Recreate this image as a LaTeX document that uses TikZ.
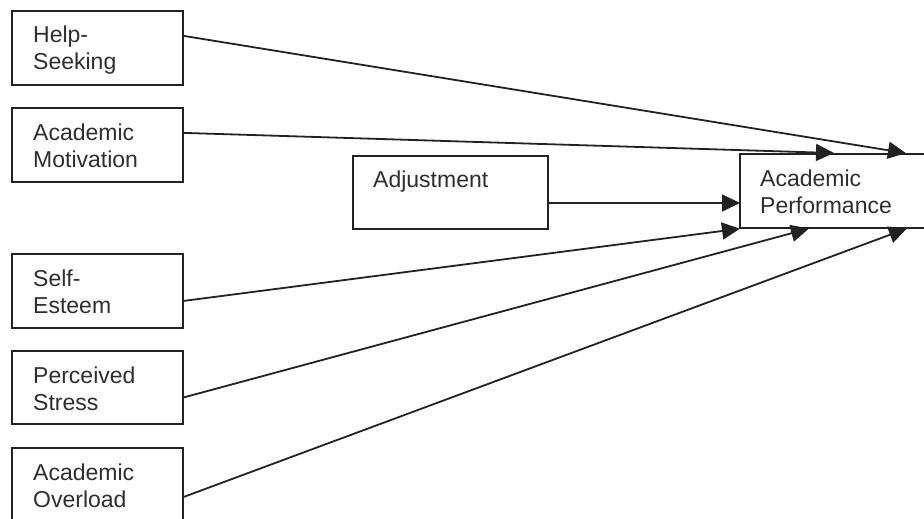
\documentclass[tikz,border=0pt]{standalone}
\usepackage{fontspec}
\setmainfont{Liberation Sans}
\usetikzlibrary{arrows.meta}
\definecolor{ink}{HTML}{222222}
\definecolor{txt}{HTML}{2E2E2E}
\begin{document}
\begin{tikzpicture}[x=1pt,y=-1pt,
  box/.style={draw=ink,line width=1.8pt,rectangle,inner sep=0pt,anchor=north west},
  lbl/.style={anchor=base west,inner sep=0pt,text=txt,font=\fontsize{23}{27}\selectfont,align=left},
  conn/.style={draw=ink,line width=1.8pt,-{Triangle[length=18pt,width=17pt]},shorten >=-1pt}]
\useasboundingbox (0,0) rectangle (924,519);
\fill[white] (0,0) rectangle (924,519);
% boxes
\node[box,minimum width=171pt,minimum height=74pt] (hs) at (11,10) {};
\node[box,minimum width=171pt,minimum height=74pt] (am) at (11,107) {};
\node[box,minimum width=171pt,minimum height=74pt] (se) at (11,253) {};
\node[box,minimum width=171pt,minimum height=73pt] (ps) at (11,350) {};
\node[box,minimum width=171pt,minimum height=80pt] (ao) at (11,447) {};
\node[box,minimum width=195pt,minimum height=73pt] (adj) at (352,155) {};
\node[box,minimum width=210pt,minimum height=74pt] (ap) at (739,153) {};
% labels
\node[lbl] (thsa) at (33,43) {Help-};
\node[lbl] (thsb) at (33,70) {Seeking};
\node[lbl] (tama) at (33,140) {Academic};
\node[lbl] (tamb) at (33,167) {Motivation};
\node[lbl] (tsea) at (33,286) {Self-};
\node[lbl] (tseb) at (33,313) {Esteem};
\node[lbl] (tpsa) at (33,383) {Perceived};
\node[lbl] (tpsb) at (33,410) {Stress};
\node[lbl] (taoa) at (33,480) {Academic};
\node[lbl] (taob) at (33,507) {Overload};
\node[lbl] (tadj) at (373,187) {Adjustment};
\node[lbl] (tapa) at (760,186) {Academic};
\node[lbl] (tapb) at (760,213) {Performance};
% connectors
\draw[conn] ([yshift=12pt]hs.east) -- ([xshift=166pt]ap.north west);
\draw[conn] ([yshift=12pt]am.east) -- ([xshift=94pt]ap.north west);
\draw[conn] (adj.east |- 0,203) -- (ap.west |- 0,203);
\draw[conn] ([yshift=-10pt]se.east) -- (ap.south west);
\draw[conn] ([yshift=-10pt]ps.east) -- ([xshift=69pt]ap.south west);
\draw[conn] ([yshift=-9pt]ao.east) -- ([xshift=167pt]ap.south west);
\end{tikzpicture}
\end{document}
